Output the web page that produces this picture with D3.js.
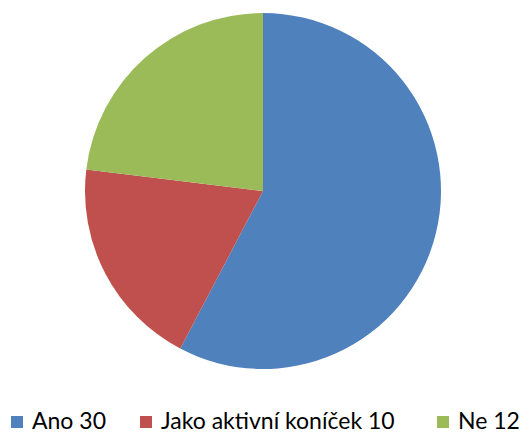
<!DOCTYPE html>
<html lang="cs">
<head>
<meta charset="UTF-8">
<title></title>
<script src="https://d3js.org/d3.v7.min.js"></script>
<style>body{margin:0;background:#fff}</style>
</head>
<body>
<script>
    var labels = ["Ano", "Jako aktivní koníček", "Ne"];
    var values = [30, 10, 12];
    var colors = ["#4F81BD", "#C0504D", "#9BBB59"];

    var width = 530, height = 434;
    var cx = 263, cy = 191, radius = 178;

    var svg = d3.select("body").append("svg")
        .attr("width", width)
        .attr("height", height);

    var pie = d3.pie().sort(null).value(function (d) { return d; });
    var arc = d3.arc().innerRadius(0).outerRadius(radius);

    svg.append("g")
        .attr("transform", "translate(" + cx + "," + cy + ")")
        .selectAll("path")
        .data(pie(values))
        .enter().append("path")
        .attr("d", arc)
        .attr("fill", function (d, i) { return colors[i]; });

    // legend
    var legendX = [11, 140, 437];
    var legend = svg.append("g").attr("font-family", "Lato, 'Open Sans', sans-serif").attr("font-size", "23px");
    labels.forEach(function (l, i) {
        legend.append("rect")
            .attr("x", legendX[i]).attr("y", 416)
            .attr("width", 12).attr("height", 12)
            .attr("fill", colors[i]);
        legend.append("text")
            .attr("x", legendX[i] + 21).attr("y", 429)
            .attr("fill", "#000")
            .text(l + " " + values[i]);
    });
</script>
</body>
</html>
